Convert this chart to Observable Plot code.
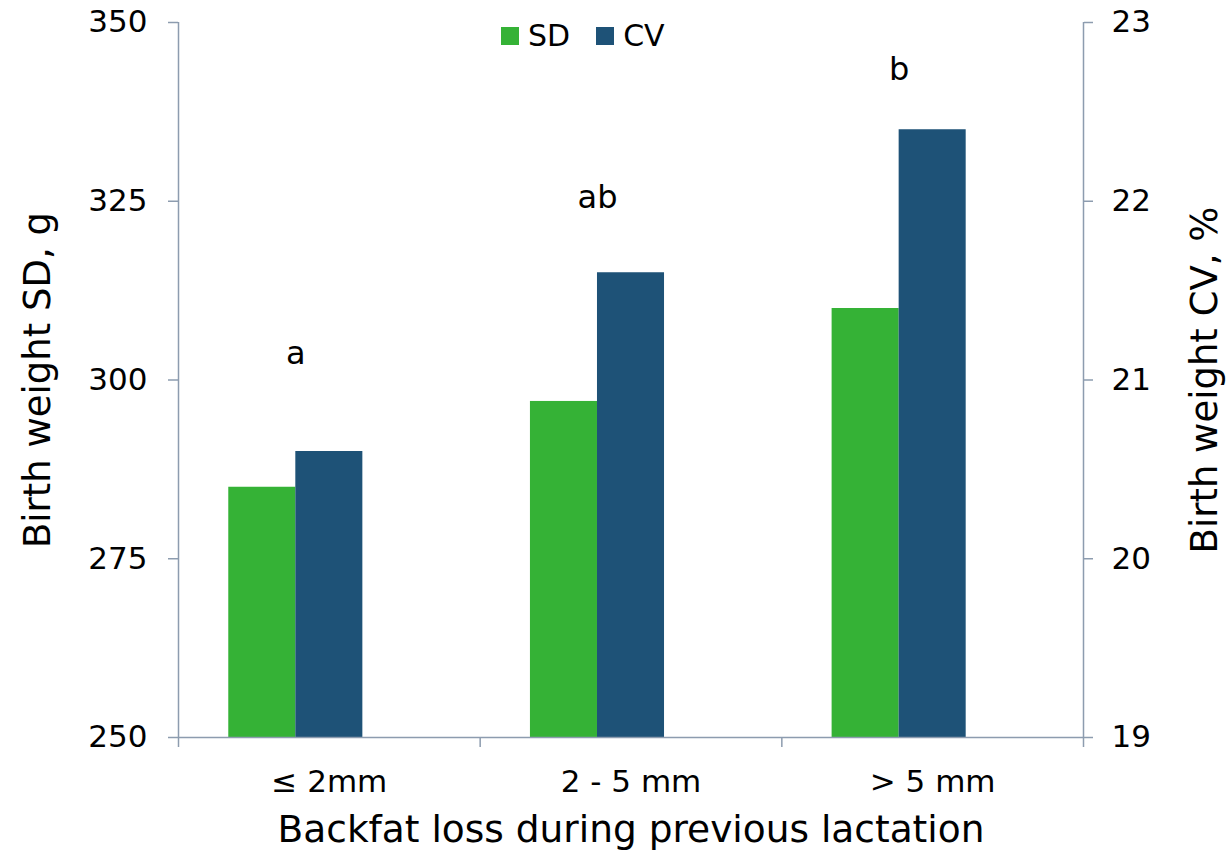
<!DOCTYPE html>
<html><head><meta charset="utf-8">
<script src="https://cdn.jsdelivr.net/npm/d3@7"></script>
<script src="https://cdn.jsdelivr.net/npm/@observablehq/plot@0.6"></script>
<style>
body{margin:0;background:#fff;font-family:"DejaVu Sans",Verdana,sans-serif;}
#wrap{position:relative;width:1228px;height:852px;}
#legend{position:absolute;left:501px;top:21px;display:flex;align-items:center;font-size:30px;line-height:30px;color:#000;}
.sw{width:18px;height:18px;display:inline-block;margin-right:9px;}
.it{display:flex;align-items:center;margin-right:26px;}
</style></head><body><div id="wrap"><div id="legend"></div></div>
<script>
// ---- data ----
const categories = ["≤ 2mm", "2 - 5 mm", "> 5 mm"];
const series = ["SD", "CV"];
const sdValues = [285, 297, 310];
const cvValues = [20.6, 21.6, 22.4];
const sigLetters = ["a", "ab", "b"];
const letterHeights = [302.3, 324.1, 342.0]; // annotation heights, in SD units
const sdTicks = [250, 275, 300, 325, 350];
const cvTicks = [19, 20, 21, 22, 23];
const sdDomain = [250, 350];
const cvDomain = [19, 23];
const colors = {SD: "#35b236", CV: "#1e5277"};
const axisColor = "#8d9caf";

// secondary axis mapping (CV -> SD units)
const k = (sdDomain[1] - sdDomain[0]) / (cvDomain[1] - cvDomain[0]);
const toSD = cv => sdDomain[0] + (cv - cvDomain[0]) * k;
const fromSD = v => cvDomain[0] + (v - sdDomain[0]) / k;

// grouped layout: 3 slots per group (third series empty), gap 150%
const slots = 3, gapRatio = 1.5;
const w = 1 / (slots + gapRatio);
const pad = gapRatio * w / 2;

const rows = categories.flatMap((c, i) => [
  {cat: c, i, s: "SD", k: 0, v: sdValues[i]},
  {cat: c, i, s: "CV", k: 1, v: toSD(cvValues[i])}
]);

const font = "DejaVu Sans, Verdana, sans-serif";

const plot = Plot.plot({
  width: 1228, height: 852,
  marginLeft: 178, marginRight: 145, marginTop: 22, marginBottom: 115,
  style: {fontFamily: font, fontSize: "31px", color: "#000", background: "transparent"},
  x: {domain: [0, categories.length]},
  y: {domain: sdDomain},
  marks: [
    Plot.rectY(rows, {
      x1: d => d.i + pad + d.k * w,
      x2: d => d.i + pad + (d.k + 1) * w,
      y1: sdDomain[0], y2: "v",
      fill: d => colors[d.s]
    }),
    Plot.axisY({anchor: "left", ticks: sdTicks, tickSize: 10, tickPadding: 21, stroke: axisColor, strokeWidth: 1.5, fill: "#000", fontSize: 31, label: null}),
    Plot.axisY({anchor: "right", ticks: cvTicks.map(toSD), tickFormat: v => String(Math.round(fromSD(v))), tickSize: 9, tickPadding: 19, stroke: axisColor, strokeWidth: 1.5, fill: "#000", fontSize: 31, label: null}),
    Plot.axisX({ticks: d3.range(categories.length + 1), tickFormat: () => "", tickSize: 10, stroke: axisColor, strokeWidth: 1.5, label: null}),
    Plot.axisX({ticks: categories.map((c, i) => i + 0.5), tickFormat: v => categories[Math.floor(v)], tickSize: 0, tickPadding: 32, fill: "#000", fontSize: 31, label: null}),
    Plot.ruleX([0, categories.length], {stroke: axisColor, strokeWidth: 1.5}),
    Plot.ruleY([sdDomain[0]], {stroke: axisColor, strokeWidth: 1.5}),
    Plot.text(sigLetters, {x: (d, i) => i + pad + w, y: (d, i) => letterHeights[i], text: d => d, lineAnchor: "bottom", fontSize: 32, fill: "#000"}),
    Plot.text(["Birth weight SD, g"], {frameAnchor: "left", textAnchor: "middle", rotate: -90, dx: -140, fontSize: 37, fill: "#000"}),
    Plot.text(["Birth weight CV, %"], {frameAnchor: "right", textAnchor: "middle", rotate: -90, dx: 122, fontSize: 37, fill: "#000"}),
    Plot.text(["Backfat loss during previous lactation"], {frameAnchor: "bottom", dy: 104, fontSize: 37.5, fill: "#000"})
  ]
});
document.getElementById("wrap").appendChild(plot);

const legend = document.getElementById("legend");
series.forEach(s => {
  const it = document.createElement("div");
  it.className = "it";
  it.innerHTML = `<span class="sw" style="background:${colors[s]}"></span><span>${s}</span>`;
  legend.appendChild(it);
});
</script>
</body></html>
